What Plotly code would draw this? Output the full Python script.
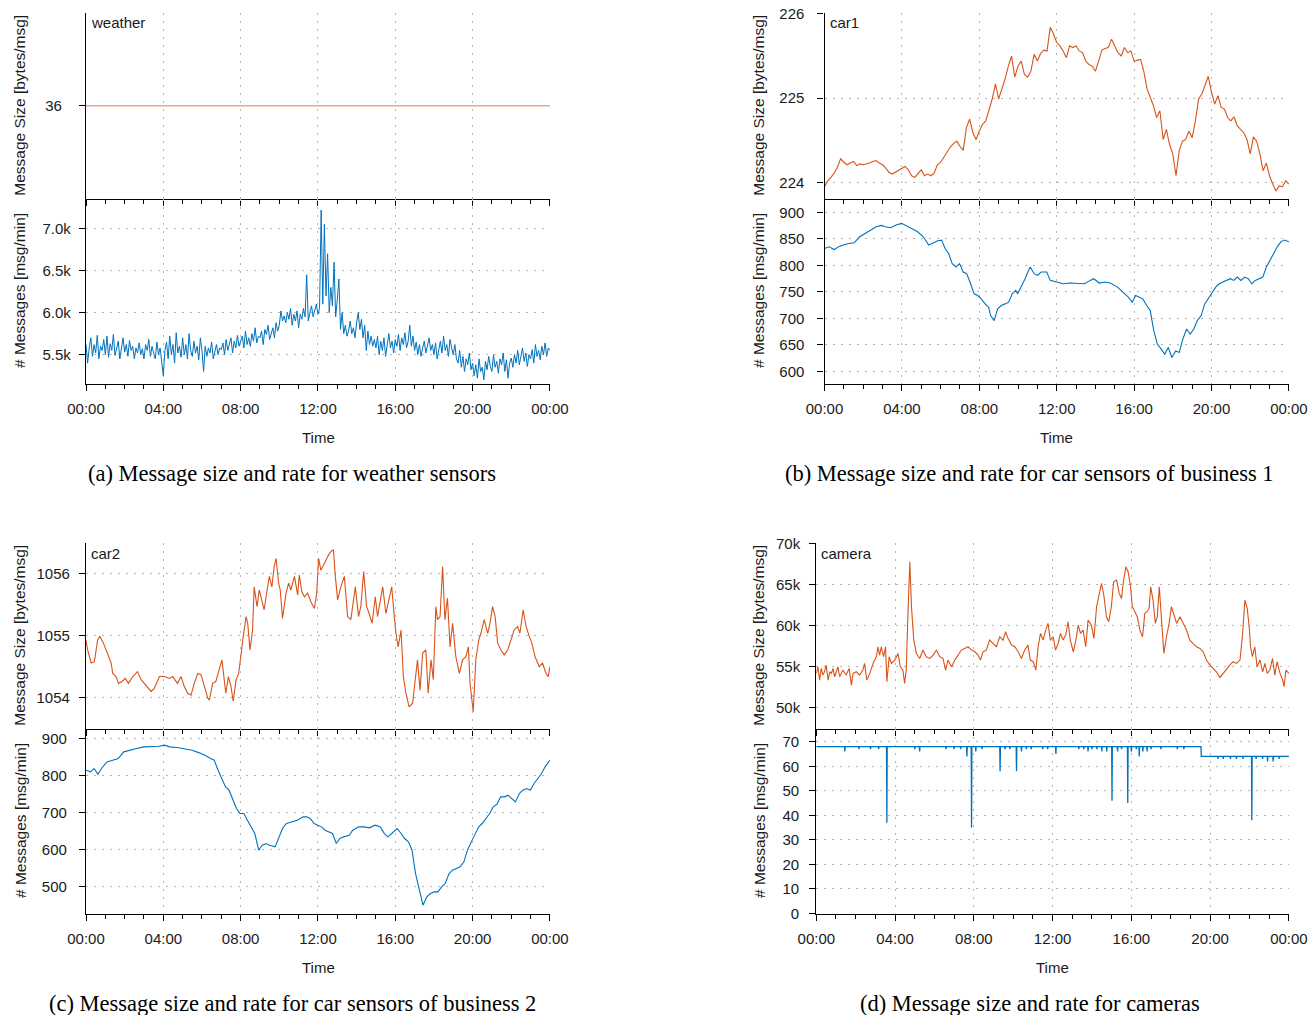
import plotly.graph_objects as go

# ---------------- data (time in minutes after midnight) ----------------
TICK_MIN = [0, 240, 480, 720, 960, 1200, 1440]
TICK_TXT = ["00:00", "04:00", "08:00", "12:00", "16:00", "20:00", "00:00"]

# (a) weather
WEATHER_SIZE_T = [0, 1440]
WEATHER_SIZE = [36, 36]
WEATHER_RATE_T = list(range(0, 1441, 5))
WEATHER_RATE_K = [
    5.62, 5.40, 5.58, 5.70, 5.48, 5.62, 5.52, 5.73, 5.45, 5.60, 5.55, 5.68,
    5.50, 5.72, 5.47, 5.63, 5.55, 5.74, 5.49, 5.60, 5.66, 5.45, 5.58, 5.70,
    5.53, 5.62, 5.48, 5.67, 5.55, 5.60, 5.45, 5.58, 5.52, 5.64, 5.50, 5.57,
    5.45, 5.62, 5.55, 5.68, 5.48, 5.60, 5.52, 5.45, 5.65, 5.50, 5.58, 5.42,
    5.25, 5.55, 5.65, 5.45, 5.72, 5.50, 5.62, 5.40, 5.76, 5.52, 5.60, 5.47,
    5.70, 5.50, 5.62, 5.45, 5.75, 5.55, 5.48, 5.66, 5.52, 5.60, 5.44, 5.70,
    5.55, 5.30, 5.60, 5.48, 5.58, 5.52, 5.65, 5.45, 5.55, 5.62, 5.50, 5.58,
    5.56, 5.64, 5.50, 5.68, 5.55, 5.62, 5.70, 5.52, 5.66, 5.58, 5.73, 5.60,
    5.65, 5.72, 5.58, 5.78, 5.62, 5.70, 5.60, 5.75, 5.66, 5.82, 5.64, 5.72,
    5.70, 5.78, 5.62, 5.80, 5.74, 5.85, 5.68, 5.76, 5.82, 5.70, 5.88, 5.78,
    5.85, 6.02, 5.90, 5.96, 5.88, 6.00, 5.92, 6.05, 5.85, 5.98, 5.90, 6.02,
    5.82, 5.98, 5.92, 6.05, 5.95, 6.45, 5.90, 6.00, 6.08, 5.95, 6.02, 6.10,
    5.98, 6.05, 7.22, 6.10, 7.05, 6.20, 6.70, 6.00, 6.30, 6.08, 6.60, 5.95,
    6.15, 6.40, 5.80, 6.00, 5.75, 5.85, 5.72, 5.78, 5.90, 5.75, 5.82, 5.70,
    5.88, 6.00, 5.80, 5.92, 5.70, 5.85, 5.55, 5.78, 5.62, 5.72, 5.60, 5.68,
    5.58, 5.72, 5.50, 5.66, 5.55, 5.70, 5.48, 5.62, 5.75, 5.58, 5.66, 5.52,
    5.68, 5.60, 5.74, 5.55, 5.70, 5.62, 5.76, 5.58, 5.66, 5.85, 5.60, 5.72,
    5.55, 5.65, 5.50, 5.62, 5.48, 5.58, 5.66, 5.52, 5.60, 5.70, 5.55, 5.62,
    5.50, 5.64, 5.45, 5.58, 5.66, 5.52, 5.72, 5.55, 5.62, 5.48, 5.68, 5.58,
    5.50, 5.62, 5.45, 5.40, 5.55, 5.35, 5.48, 5.30, 5.45, 5.38, 5.52, 5.32,
    5.40, 5.25, 5.38, 5.22, 5.45, 5.30, 5.35, 5.20, 5.42, 5.32, 5.48, 5.36,
    5.30, 5.50, 5.35, 5.42, 5.28, 5.45, 5.38, 5.52, 5.30, 5.44, 5.22, 5.40,
    5.46, 5.35, 5.50, 5.40, 5.55, 5.38, 5.48, 5.58, 5.42, 5.52, 5.36, 5.50,
    5.45, 5.56, 5.40, 5.62, 5.48, 5.55, 5.44, 5.60, 5.50, 5.64, 5.48, 5.58,
    5.55,
]

# (b) car1
CAR1_SIZE_T = list(range(0, 1441, 10))
CAR1_SIZE = [
    223.95, 224.02, 224.06, 224.11, 224.18, 224.28, 224.24, 224.21, 224.23, 224.25,
    224.20, 224.22, 224.21, 224.22, 224.23, 224.25, 224.26, 224.23, 224.21, 224.17,
    224.12, 224.10, 224.12, 224.14, 224.17, 224.19, 224.15, 224.08, 224.06, 224.10,
    224.15, 224.08, 224.10, 224.08, 224.11, 224.21, 224.24, 224.30, 224.36, 224.42,
    224.46, 224.49, 224.43, 224.38, 224.65, 224.75, 224.59, 224.51, 224.61, 224.69,
    224.73, 224.85, 224.99, 225.17, 224.99, 225.11, 225.23, 225.38, 225.50, 225.25,
    225.38, 225.44, 225.28, 225.25, 225.32, 225.52, 225.44, 225.53, 225.57, 225.56,
    225.84, 225.76, 225.66, 225.62, 225.56, 225.48, 225.62, 225.60, 225.62, 225.56,
    225.54, 225.44, 225.40, 225.38, 225.32, 225.44, 225.57, 225.59, 225.60, 225.70,
    225.62, 225.54, 225.50, 225.60, 225.54, 225.56, 225.44, 225.45, 225.46, 225.32,
    225.11, 225.01, 224.91, 224.77, 224.85, 224.51, 224.63, 224.45, 224.34, 224.08,
    224.38, 224.49, 224.51, 224.61, 224.53, 224.73, 224.99, 225.05, 225.15, 225.26,
    225.07, 224.93, 225.03, 224.89, 224.87, 224.77, 224.73, 224.78, 224.67, 224.63,
    224.59, 224.51, 224.34, 224.54, 224.49, 224.34, 224.14, 224.23, 224.08, 223.98,
    223.90, 223.96, 223.95, 224.02, 223.98,
]
CAR1_RATE_T = [
    0, 14, 30, 47, 64, 75, 92, 109, 126, 143, 160, 177, 188, 205, 222, 239, 256, 272, 289, 306,
    323, 334, 351, 363, 374, 385, 396, 408, 419, 430, 441, 453, 464, 475, 486, 498, 509, 515, 526, 537,
    548, 560, 571, 582, 593, 599, 610, 622, 633, 638, 650, 661, 672, 689, 700, 717, 740, 762, 785, 807,
    824, 835, 852, 869, 886, 909, 925, 942, 954, 965, 976, 987, 999, 1010, 1021, 1032, 1044, 1055, 1066, 1077,
    1089, 1100, 1111, 1123, 1134, 1145, 1156, 1168, 1179, 1190, 1201, 1213, 1224, 1235, 1246, 1258, 1269, 1280, 1291, 1303,
    1314, 1325, 1336, 1347, 1359, 1370, 1381, 1392, 1404, 1415, 1426, 1440,
]
CAR1_RATE = [
    831.6, 834.8, 829.7, 836.1, 839.2, 841.1, 842.4, 853.8, 860.1, 866.5,
    872.8, 875.3, 872.8, 870.9, 876.0, 879.1, 874.1, 869.6, 863.3, 853.8,
    838.0, 841.1, 846.2, 847.5, 831.6, 822.2, 803.2, 796.8, 803.2, 787.3,
    784.2, 765.2, 746.2, 743.0, 736.7, 727.2, 720.9, 705.1, 695.6, 717.7,
    724.1, 727.2, 730.4, 746.2, 752.5, 746.2, 758.9, 774.7, 790.5, 796.8,
    784.2, 781.0, 787.3, 787.3, 771.5, 768.4, 765.2, 766.5, 766.5, 765.2,
    771.5, 774.7, 766.5, 768.4, 766.5, 758.9, 749.4, 739.9, 730.4, 743.0,
    739.9, 736.7, 724.1, 714.6, 676.6, 651.3, 641.8, 632.3, 645.0, 626.0,
    638.6, 635.4, 660.8, 679.8, 670.3, 679.8, 695.6, 705.1, 727.2, 736.7,
    746.2, 758.9, 765.2, 768.4, 771.5, 774.7, 771.5, 777.8, 771.5, 777.8,
    774.7, 765.2, 771.5, 774.7, 777.8, 796.8, 809.5, 822.2, 834.8, 844.3,
    847.5, 844.3,
]

# (c) car2
CAR2_SIZE_T = [
    0, 5, 16, 26, 36, 43, 54, 67, 78, 83, 93, 101, 112, 122, 132, 145, 160, 171, 186, 202,
    212, 228, 243, 259, 269, 284, 295, 305, 316, 326, 336, 347, 357, 367, 378, 383, 393, 403, 414, 422,
    429, 434, 442, 450, 457, 466, 474, 481, 488, 497, 502, 509, 517, 522, 531, 538, 546, 553, 559, 569,
    577, 584, 590, 598, 603, 610, 621, 629, 636, 647, 657, 662, 670, 678, 688, 698, 709, 716, 722, 729,
    740, 750, 760, 768, 774, 781, 791, 802, 812, 822, 836, 846, 853, 862, 871, 879, 888, 898, 905, 913,
    921, 931, 941, 949, 957, 962, 969, 978, 985, 993, 1003, 1014, 1022, 1029, 1037, 1045, 1055, 1062, 1071, 1078,
    1086, 1091, 1099, 1107, 1114, 1122, 1130, 1138, 1148, 1159, 1169, 1179, 1187, 1192, 1202, 1210, 1219, 1226, 1236, 1247,
    1254, 1262, 1270, 1278, 1288, 1298, 1309, 1319, 1329, 1340, 1347, 1357, 1366, 1376, 1384, 1394, 1407, 1417, 1428, 1435,
    1440,
]
CAR2_SIZE = [
    1054.93, 1054.77, 1054.56, 1054.58, 1054.93, 1054.99, 1054.88, 1054.69, 1054.56, 1054.39,
    1054.34, 1054.23, 1054.26, 1054.31, 1054.23, 1054.34, 1054.42, 1054.29, 1054.20, 1054.10,
    1054.15, 1054.34, 1054.34, 1054.31, 1054.34, 1054.23, 1054.34, 1054.18, 1054.07, 1054.04,
    1054.23, 1054.39, 1054.37, 1054.18, 1053.99, 1053.96, 1054.23, 1054.26, 1054.45, 1054.61,
    1054.29, 1054.07, 1054.34, 1054.18, 1053.94, 1054.29, 1054.39, 1054.72, 1054.99, 1055.31,
    1055.20, 1054.77, 1055.09, 1055.79, 1055.47, 1055.74, 1055.58, 1055.42, 1055.63, 1055.96,
    1055.79, 1056.12, 1056.25, 1055.85, 1055.74, 1055.28, 1055.69, 1055.85, 1055.74, 1055.96,
    1055.66, 1055.98, 1055.71, 1055.63, 1055.69, 1055.55, 1055.44, 1055.69, 1056.25, 1056.06,
    1056.17, 1056.28, 1056.36, 1056.39, 1055.96, 1055.58, 1055.79, 1055.96, 1055.31, 1055.26,
    1055.79, 1055.31, 1055.47, 1056.04, 1055.47, 1055.36, 1055.20, 1055.63, 1055.31, 1055.53,
    1055.79, 1055.36, 1055.58, 1055.79, 1055.31, 1055.04, 1054.82, 1055.09, 1054.34, 1054.07,
    1053.85, 1053.91, 1054.29, 1054.61, 1054.12, 1054.72, 1054.77, 1054.07, 1054.61, 1054.29,
    1055.47, 1055.26, 1055.31, 1056.12, 1055.26, 1055.61, 1054.82, 1055.20, 1054.66, 1054.39,
    1054.61, 1054.66, 1054.82, 1054.23, 1053.77, 1054.61, 1054.93, 1055.04, 1055.26, 1055.04,
    1055.20, 1055.47, 1055.31, 1054.88, 1054.77, 1054.69, 1054.77, 1054.93, 1055.09, 1055.15,
    1055.04, 1055.42, 1055.15, 1054.99, 1054.88, 1054.66, 1054.50, 1054.56, 1054.39, 1054.34,
    1054.50,
]
CAR2_RATE_T = [
    0, 14, 25, 37, 48, 65, 83, 100, 117, 134, 157, 180, 203, 226, 243, 260, 283, 306, 329, 352,
    369, 387, 398, 410, 421, 433, 444, 456, 467, 478, 490, 501, 513, 524, 536, 547, 559, 570, 587, 599,
    610, 622, 639, 656, 674, 685, 696, 708, 719, 731, 742, 754, 765, 777, 788, 800, 817, 828, 846, 863,
    880, 897, 914, 926, 937, 949, 966, 978, 989, 1001, 1012, 1023, 1035, 1046, 1058, 1069, 1081, 1092, 1104, 1115,
    1127, 1138, 1150, 1161, 1173, 1184, 1196, 1207, 1219, 1230, 1242, 1253, 1264, 1276, 1287, 1299, 1310, 1322, 1333, 1345,
    1356, 1368, 1379, 1391, 1402, 1414, 1425, 1440,
]
CAR2_RATE = [
    814.6, 810.1, 819.1, 803.8, 819.1, 837.0, 841.5, 846.0, 864.0, 868.5,
    873.0, 877.5, 877.5, 879.3, 882.0, 877.5, 875.7, 873.0, 868.5, 861.3,
    855.0, 846.0, 841.5, 814.6, 792.1, 769.6, 760.6, 733.6, 711.1, 697.7,
    697.7, 679.7, 661.7, 643.7, 598.7, 612.2, 616.7, 612.2, 607.7, 634.7,
    657.2, 670.7, 675.2, 679.7, 688.7, 688.7, 684.2, 670.7, 666.2, 661.7,
    652.7, 648.2, 643.7, 616.7, 630.2, 634.7, 639.2, 652.7, 661.7, 661.7,
    659.0, 666.2, 661.7, 643.7, 634.7, 643.7, 657.2, 643.7, 630.2, 621.2,
    598.7, 535.8, 490.8, 450.4, 472.8, 481.8, 486.3, 486.3, 499.8, 508.8,
    535.8, 544.8, 549.3, 553.8, 567.3, 598.7, 621.2, 639.2, 661.7, 670.7,
    684.2, 697.7, 715.6, 722.8, 742.6, 742.6, 747.1, 738.1, 729.1, 751.6,
    760.6, 765.1, 760.6, 778.6, 792.1, 805.6, 823.6, 841.5,
]

# (d) camera
CAM_SIZE_T = [
    0, 5, 10, 15, 20, 25, 30, 36, 41, 46, 51, 56, 61, 66, 71, 76, 81, 91, 100, 107,
    112, 122, 132, 142, 147, 154, 163, 173, 183, 188, 193, 198, 205, 211, 215, 222, 229, 239, 249, 256,
    264, 269, 274, 279, 285, 290, 297, 305, 315, 325, 335, 346, 356, 366, 376, 386, 394, 401, 412, 422,
    432, 442, 452, 462, 473, 483, 493, 500, 508, 518, 528, 539, 549, 559, 569, 577, 584, 595, 605, 615,
    625, 635, 645, 652, 661, 669, 676, 683, 691, 699, 706, 713, 722, 729, 737, 744, 752, 760, 767, 774,
    783, 791, 798, 805, 813, 821, 828, 838, 846, 854, 862, 869, 876, 884, 891, 899, 906, 915, 923, 930,
    935, 943, 950, 957, 963, 970, 978, 986, 994, 1001, 1008, 1014, 1019, 1026, 1033, 1039, 1045, 1052, 1059, 1067,
    1075, 1082, 1089, 1098, 1108, 1118, 1128, 1138, 1148, 1158, 1169, 1179, 1189, 1199, 1209, 1219, 1230, 1240, 1250, 1260,
    1270, 1280, 1291, 1299, 1306, 1313, 1319, 1323, 1329, 1336, 1343, 1352, 1360, 1367, 1374, 1382, 1390, 1397, 1404, 1413,
    1421, 1425, 1431, 1440,
]
CAM_SIZE_K = [
    54.19, 55.00, 53.38, 54.80, 53.99, 54.39, 55.20, 53.38, 54.39, 54.19,
    54.80, 53.78, 54.39, 55.00, 53.78, 54.19, 54.59, 53.99, 54.80, 52.77,
    54.19, 54.39, 53.99, 54.59, 55.41, 53.38, 54.19, 55.41, 56.22, 57.43,
    56.42, 57.43, 56.22, 57.43, 53.18, 56.22, 55.41, 55.81, 56.62, 55.00,
    54.59, 52.97, 54.59, 61.08, 67.77, 62.30, 58.24, 56.62, 56.01, 57.03,
    56.22, 56.01, 56.42, 57.03, 56.22, 56.01, 54.59, 55.81, 55.00, 55.81,
    56.42, 57.03, 57.23, 57.43, 57.03, 56.82, 56.42, 55.81, 56.82, 57.03,
    58.24, 57.84, 57.43, 58.65, 58.24, 59.26, 58.45, 57.63, 57.43, 56.82,
    56.01, 57.03, 57.63, 55.81, 55.61, 54.59, 57.43, 59.05, 58.24, 59.46,
    60.27, 58.24, 58.65, 57.03, 57.84, 59.05, 58.24, 58.85, 60.47, 58.24,
    56.82, 58.24, 60.07, 59.05, 59.46, 57.43, 60.67, 60.07, 58.45, 62.30,
    63.92, 65.13, 63.72, 61.08, 60.47, 62.30, 65.34, 65.54, 63.92, 63.31,
    65.13, 67.16, 66.55, 64.93, 62.30, 61.69, 61.08, 59.46, 58.65, 61.49,
    61.69, 62.09, 64.73, 63.11, 60.27, 61.08, 64.73, 60.67, 56.62, 58.65,
    60.27, 62.30, 61.49, 60.27, 61.08, 60.27, 59.46, 58.24, 57.84, 57.43,
    57.23, 56.82, 55.81, 55.20, 54.80, 54.39, 53.70, 54.19, 54.80, 55.20,
    55.61, 55.41, 55.81, 59.05, 63.11, 62.09, 59.86, 57.43, 56.22, 57.43,
    55.00, 55.81, 54.39, 55.41, 54.19, 54.59, 56.01, 53.99, 55.61, 54.19,
    53.38, 52.57, 54.59, 54.19,
]
# camera rate: steady level (68 msg/min, 64 after 19:32) with short drops
CAM_LEVEL_T = [0, 1172, 1173, 1440]
CAM_LEVEL = [68, 68, 64, 64]
CAM_DIP_T = [
    87, 130, 165, 190, 215, 300, 315, 395, 420, 440, 459, 473, 486, 505, 560, 575, 590, 610,
    625, 640, 655, 690, 705, 730, 800, 815, 828, 840, 855, 870, 885, 901, 918, 930, 949, 960,
    975, 984, 995, 1008, 1020, 1050, 1100, 1120, 1224, 1240, 1262, 1280, 1300, 1327, 1340,
    1360, 1375, 1392, 1410,
]
CAM_DIP = [
    66, 67, 67, 67, 37, 67, 66, 67, 67, 67, 64, 35, 66, 67, 58, 67, 67, 58,
    66, 67, 67, 67, 67, 65, 67, 67, 66, 67, 67, 66, 66, 46, 66, 67, 45, 66,
    67, 64, 66, 66, 67, 67, 67, 67, 63, 63, 63, 63, 63, 38, 63,
    63, 62, 62, 63,
]

# ---------------- styling ----------------
ORANGE = "#D95319"
ORANGE_LIGHT = "#EBA58C"
BLUE = "#0072BD"
GRID = "#b4b4b4"
TXT = "#1a1a1a"
SANS = "Liberation Sans, Arial, sans-serif"
SERIF = "Liberation Serif, Times New Roman, serif"
W, H = 1309, 1015


def fx(p):
    return p / W


def fy(p):
    return 1 - p / H


def level_at(t):
    lv = CAM_LEVEL[0]
    for lt, lvv in zip(CAM_LEVEL_T, CAM_LEVEL):
        if lt <= t:
            lv = lvv
    return lv


# build the camera-rate polyline from the level and dip arrays
cam_rate_t, cam_rate_v = [], []
events = sorted([(t, None) for t in CAM_LEVEL_T] + list(zip(CAM_DIP_T, CAM_DIP)),
                key=lambda e: (e[0], 0 if e[1] is None else 1))
for t, dv in events:
    if dv is None:
        cam_rate_t.append(t)
        cam_rate_v.append(level_at(t) if t != CAM_LEVEL_T[1] else CAM_LEVEL[1])
    else:
        base = level_at(t)
        cam_rate_t += [t - 1, t, t + 1]
        cam_rate_v += [base, dv, base]

fig = go.Figure()

# panel geometry in page pixels: (left, right, top, separator, bottom)
PANELS = [
    (86.0, 550.0, 13.0, 198.5, 383.5),
    (824.5, 1289.0, 13.0, 198.5, 383.5),
    (86.0, 550.0, 543.0, 728.5, 913.5),
    (816.3, 1289.0, 543.0, 728.5, 913.5),
]

layout = dict()


def x_axis(n, panel, yname, labels):
    l, r, t, s, b = panel
    d = dict(
        domain=[fx(l), fx(r)], anchor=yname, range=[0, 1440.3],
        tickmode="array", tickvals=TICK_MIN, ticktext=TICK_TXT,
        showticklabels=labels, automargin=False, ticklabeloverflow="allow",
        showline=True, linecolor="black", linewidth=1.3,
        ticks="outside", ticklen=6, tickwidth=1.2, tickcolor="black",
        showgrid=True, gridcolor=GRID, griddash="2px,6px", gridwidth=1,
        zeroline=False,
        minor=dict(tickmode="linear", tick0=0, dtick=60, ticks="outside",
                   ticklen=4, tickwidth=1, tickcolor="black", showgrid=False),
        tickfont=dict(family=SANS, size=15, color=TXT),
        ticklabelstandoff=5,
    )
    layout["xaxis" + ("" if n == 1 else str(n))] = d


def y_axis(n, ydom, xname, rng, tv, tt, standoff):
    d = dict(
        domain=ydom, anchor=xname, range=rng,
        tickmode="array", tickvals=tv, ticktext=tt, automargin=False,
        ticklabeloverflow="allow",
        showline=True, linecolor="black", linewidth=1.3,
        ticks="outside", ticklen=6, tickwidth=1.2, tickcolor="black",
        showgrid=True, gridcolor=GRID, griddash="2px,6px", gridwidth=1,
        zeroline=False,
        tickfont=dict(family=SANS, size=15, color=TXT),
        ticklabelstandoff=standoff,
    )
    layout["yaxis" + ("" if n == 1 else str(n))] = d


Y_SPECS = [
    (([35, 37], [36], ["36"], 14),
     ([5.157, 7.357], [5.5, 6.0, 6.5, 7.0], ["5.5k", "6.0k", "6.5k", "7.0k"], 5)),
    (([223.81, 226.01], [224, 225, 226], ["224", "225", "226"], 10),
     ([577, 926], [600, 650, 700, 750, 800, 850, 900],
      ["600", "650", "700", "750", "800", "850", "900"], 10)),
    (([1053.5, 1056.5], [1054, 1055, 1056], ["1054", "1055", "1056"], 6),
     ([428, 927], [500, 600, 700, 800, 900], ["500", "600", "700", "800", "900"], 9)),
    (([47.49, 70.05], [50, 55, 60, 65, 70], ["50k", "55k", "60k", "65k", "70k"], 6),
     ([0, 75.4], [0, 10, 20, 30, 40, 50, 60, 70],
      ["0", "10", "20", "30", "40", "50", "60", "70"], 7)),
]

SERIES = [
    ((WEATHER_SIZE_T, WEATHER_SIZE, ORANGE_LIGHT, 1.6), (WEATHER_RATE_T, WEATHER_RATE_K, BLUE, 1.0)),
    ((CAR1_SIZE_T, CAR1_SIZE, ORANGE, 1.1), (CAR1_RATE_T, CAR1_RATE, BLUE, 1.1)),
    ((CAR2_SIZE_T, CAR2_SIZE, ORANGE, 1.1), (CAR2_RATE_T, CAR2_RATE, BLUE, 1.1)),
    ((CAM_SIZE_T, CAM_SIZE_K, ORANGE, 1.1), (cam_rate_t, cam_rate_v, BLUE, 1.3)),
]

NAMES = ["weather", "car1", "car2", "camera"]
CAPTIONS = [
    "(a) Message size and rate for weather sensors",
    "(b) Message size and rate for car sensors of business 1",
    "(c) Message size and rate for car sensors of business 2",
    "(d) Message size and rate for cameras",
]
CAPTION_X = [292, 1029.5, 292, 1030]
YTITLE_X = [20, 759, 20, 759]

annotations = []
for k, panel in enumerate(PANELS):
    l, r, t, s, b = panel
    n_top, n_bot = 2 * k + 1, 2 * k + 2
    xn_top = "x" if n_top == 1 else "x%d" % n_top
    yn_top = "y" if n_top == 1 else "y%d" % n_top
    xn_bot, yn_bot = "x%d" % n_bot, "y%d" % n_bot
    x_axis(n_top, panel, yn_top, False)
    x_axis(n_bot, panel, yn_bot, True)
    top_spec, bot_spec = Y_SPECS[k]
    y_axis(n_top, [fy(s), fy(t)], xn_top, top_spec[0], top_spec[1], top_spec[2], top_spec[3])
    y_axis(n_bot, [fy(b), fy(s)], xn_bot, bot_spec[0], bot_spec[1], bot_spec[2], bot_spec[3])

    (tx, ty, tc, tw), (bx, by, bc, bw) = SERIES[k]
    fig.add_trace(go.Scatter(x=tx, y=ty, mode="lines", line=dict(color=tc, width=tw),
                             xaxis=xn_top, yaxis=yn_top, showlegend=False, hoverinfo="skip"))
    fig.add_trace(go.Scatter(x=bx, y=by, mode="lines", line=dict(color=bc, width=bw),
                             xaxis=xn_bot, yaxis=yn_bot, showlegend=False, hoverinfo="skip"))

    annotations.append(dict(text=NAMES[k], x=fx(l + 3), y=fy(t + 10), xref="paper", yref="paper",
                            xanchor="left", yanchor="middle", showarrow=False,
                            font=dict(family=SANS, size=15, color=TXT)))
    annotations.append(dict(text="Message Size [bytes/msg]", x=fx(YTITLE_X[k]), y=fy((t + s) / 2),
                            xref="paper", yref="paper", textangle=-90, showarrow=False,
                            xanchor="center", yanchor="middle",
                            font=dict(family=SANS, size=15.5, color=TXT)))
    annotations.append(dict(text="# Messages [msg/min]", x=fx(YTITLE_X[k]), y=fy((s + b) / 2),
                            xref="paper", yref="paper", textangle=-90, showarrow=False,
                            xanchor="center", yanchor="middle",
                            font=dict(family=SANS, size=15.5, color=TXT)))
    annotations.append(dict(text="Time", x=fx((l + r) / 2), y=fy(b + 54), xref="paper", yref="paper",
                            showarrow=False, xanchor="center", yanchor="middle",
                            font=dict(family=SANS, size=15, color=TXT)))
    annotations.append(dict(text=CAPTIONS[k], x=fx(CAPTION_X[k]), y=fy(b + 90), xref="paper",
                            yref="paper", showarrow=False, xanchor="center", yanchor="middle",
                            font=dict(family=SERIF, size=22.5, color="black")))

fig.update_layout(
    width=W, height=H,
    margin=dict(l=0, r=0, t=0, b=0, autoexpand=False),
    paper_bgcolor="white", plot_bgcolor="white",
    annotations=annotations,
    showlegend=False,
    **layout,
)

# place the figure flush with the page corner (no default body margin), no mode bar
fig.write_html("out.html", config={"displayModeBar": False},
               post_script="document.body.style.margin='0px';")
